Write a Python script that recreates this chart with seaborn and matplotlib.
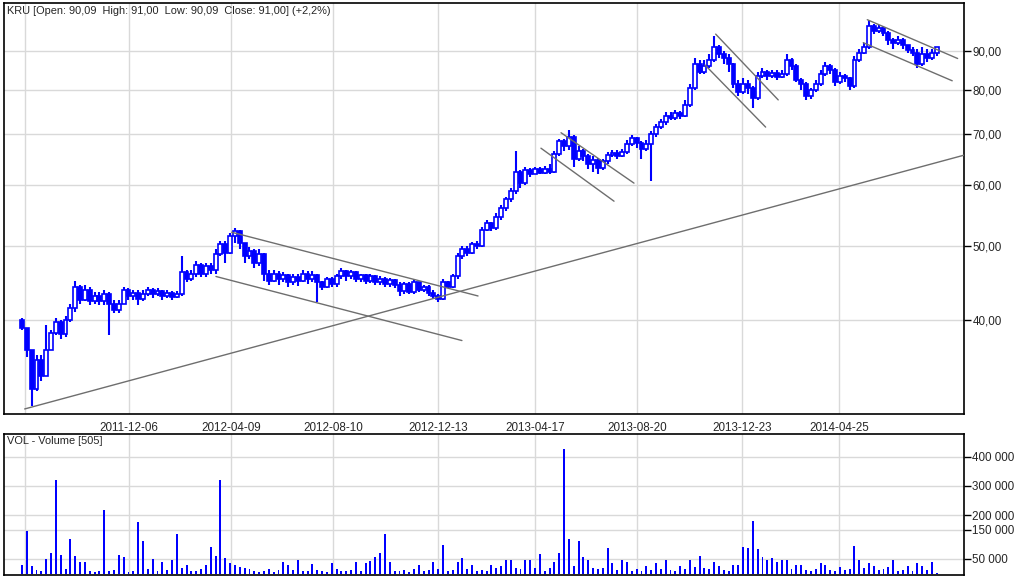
import numpy as np
import pandas as pd
import matplotlib
matplotlib.use("Agg")
import matplotlib.pyplot as plt
from matplotlib.ticker import FixedLocator, NullLocator
import seaborn as sns

# Data (one bar ~ 4 sessions)
first_open = 40.0
closes = [
    39.0, 36.5, 32.5, 35.5, 33.8, 36.5, 38.5, 39.8, 38.3, 40.0,
    41.5, 44.2, 42.5, 43.8, 42.3, 43.0, 42.3, 43.2, 42.0, 41.2,
    42.0, 43.8, 43.0, 43.4, 42.6, 43.3, 43.8, 43.2, 43.6, 43.0,
    43.4, 42.9, 43.3, 46.2, 45.2, 46.0, 47.2, 46.0, 47.0, 46.5,
    48.8, 50.3, 49.0, 51.5, 52.3, 50.5, 48.5, 49.2, 47.5, 48.8,
    46.0, 45.0, 46.0, 45.2, 45.8, 44.8, 45.5, 45.0, 46.0, 45.2,
    45.8, 44.8, 44.2, 45.2, 44.6, 45.6, 46.3, 45.6, 46.2, 45.2,
    45.8, 45.0, 45.6, 44.9, 45.3, 44.6, 45.1, 44.5, 43.6, 44.6,
    43.5, 44.8, 43.8, 44.2, 43.4, 43.0, 42.6, 44.8, 44.2, 45.6,
    48.5, 49.6, 49.0, 50.3, 50.0, 52.5, 53.5, 52.8, 54.5, 56.0,
    57.5, 59.0, 62.5, 60.5, 62.8, 62.0, 63.0, 62.3, 63.0, 62.5,
    66.0, 68.5, 67.5, 69.5, 65.0, 66.5, 65.5, 64.0, 64.8, 63.2,
    64.5, 65.8, 66.2, 65.6, 66.4, 68.0, 69.2, 68.2, 67.0, 68.0,
    70.0, 71.5, 72.5, 74.0, 73.5, 74.5, 74.0, 76.5, 80.5, 86.5,
    84.5, 86.0, 87.5, 91.0, 89.0, 88.0, 86.5, 81.5, 79.5, 81.5,
    80.5, 78.0, 83.5, 84.5, 83.5, 84.2, 83.2, 84.0, 87.5, 86.0,
    82.5, 81.5, 78.5, 80.0, 81.5, 84.0, 86.0, 85.0, 82.0, 83.5,
    82.8, 81.0, 87.5, 89.5, 91.0, 97.0, 95.5, 96.5, 95.0, 93.0,
    92.0, 93.0, 91.5, 90.2, 89.5, 86.5, 89.0, 88.0, 89.5, 91.0,
]
highs = [
    40.2, 39.0, 36.5, 36.0, 36.0, 39.4, 38.8, 40.2, 40.0, 40.5,
    42.0, 45.0, 44.5, 44.5, 44.2, 43.5, 43.5, 43.8, 43.5, 42.5,
    42.5, 44.2, 44.0, 43.8, 43.8, 43.8, 44.2, 44.0, 44.0, 43.8,
    43.8, 43.6, 43.6, 48.5, 46.5, 46.5, 47.8, 47.5, 47.5, 47.5,
    49.5, 50.8, 50.8, 52.0, 52.8, 52.5, 50.5, 49.8, 49.5, 49.5,
    49.0, 46.5, 46.5, 46.3, 46.2, 46.0, 46.0, 46.0, 46.5, 46.3,
    46.3, 46.0, 45.0, 45.5, 45.5, 46.0, 46.8, 46.5, 46.5, 46.4,
    46.0, 46.0, 45.9, 45.8, 45.6, 45.5, 45.4, 45.3, 44.8, 44.9,
    44.8, 45.2, 44.9, 44.5, 44.4, 43.8, 43.2, 45.3, 45.0, 46.0,
    49.0, 50.0, 50.0, 50.6, 50.8, 53.0, 54.0, 53.8, 55.2, 56.5,
    58.0, 59.5, 66.5, 62.8, 63.5, 63.3, 63.5, 63.5, 63.6, 64.0,
    66.5, 69.0, 69.0, 70.8, 69.8, 67.5, 67.0, 66.0, 65.5, 65.2,
    65.0, 66.3, 66.8, 66.8, 67.0, 68.8, 69.8, 69.5, 68.5, 68.8,
    70.6, 72.2, 73.2, 74.8, 74.8, 75.2, 75.0, 77.5, 81.5, 88.0,
    87.5, 87.5, 89.0, 94.0, 91.5, 90.0, 89.0, 86.8, 82.5, 83.0,
    82.5, 80.8, 84.5, 85.5, 85.0, 85.0, 84.8, 85.0, 89.0, 88.0,
    86.5, 83.0, 82.0, 80.5, 82.5, 84.8, 87.0, 86.5, 85.5, 84.3,
    83.8, 83.2, 88.5, 90.5, 92.0, 98.8, 97.5, 97.2, 96.8, 95.5,
    93.5, 94.0, 93.5, 91.5, 91.0, 90.5, 91.0, 90.5, 90.5, 91.0,
]
lows = [
    38.8, 35.8, 30.9, 32.3, 33.3, 34.0, 36.5, 38.2, 37.8, 38.0,
    39.8, 41.0, 42.0, 42.3, 41.8, 42.0, 41.8, 41.8, 38.2, 40.8,
    40.8, 42.0, 42.5, 42.5, 41.8, 42.3, 43.0, 42.8, 43.0, 42.5,
    42.8, 42.5, 42.8, 43.0, 44.8, 45.0, 45.5, 45.5, 45.5, 46.0,
    46.0, 48.5, 47.5, 48.8, 50.5, 49.5, 47.5, 48.0, 46.8, 47.0,
    45.0, 44.5, 44.8, 44.5, 44.8, 44.2, 44.5, 44.3, 44.8, 44.6,
    44.8, 42.2, 43.8, 44.0, 44.2, 44.2, 45.3, 45.0, 45.2, 44.8,
    44.9, 44.6, 44.7, 44.5, 44.5, 44.2, 44.2, 44.0, 43.0, 43.3,
    43.2, 43.3, 43.5, 43.5, 43.0, 42.6, 42.2, 42.5, 44.0, 44.0,
    45.3, 48.0, 48.5, 48.8, 49.5, 49.8, 52.3, 52.3, 52.5, 54.0,
    55.5, 57.0, 58.5, 59.5, 60.0, 61.5, 62.0, 62.0, 62.0, 62.0,
    62.3, 65.5, 66.5, 66.8, 63.5, 64.5, 64.5, 63.0, 62.5, 62.0,
    62.8, 64.0, 65.3, 65.0, 65.3, 66.0, 67.5, 67.2, 65.0, 66.5,
    60.7, 69.5, 71.0, 72.0, 73.0, 73.0, 73.3, 73.8, 76.0, 80.0,
    84.0, 84.0, 85.5, 87.0, 88.0, 86.5, 84.5, 80.5, 78.5, 79.0,
    79.0, 75.8, 77.5, 83.0, 82.5, 82.8, 82.5, 83.0, 83.5, 85.0,
    82.0, 80.0, 77.5, 77.8, 79.5, 81.0, 83.5, 84.0, 81.0, 81.5,
    82.0, 80.0, 80.5, 87.0, 89.0, 90.5, 94.5, 95.0, 94.0, 91.5,
    90.5, 91.5, 90.5, 89.5, 88.5, 85.5, 86.0, 87.0, 87.5, 88.5,
]

volumes = [
    30000, 146000, 25000, 12000, 8000, 50000, 70000, 319000, 62000, 15000,
    118000, 60000, 40000, 40000, 10000, 6000, 9000, 219000, 8000, 12000,
    63000, 58000, 7000, 10000, 178000, 111000, 15000, 50000, 9000, 39000,
    12000, 46000, 136000, 18000, 31000, 10000, 8000, 14000, 31000, 90000,
    60000, 322000, 54000, 35000, 30000, 22000, 18000, 15000, 10000, 6000,
    9000, 14000, 7000, 12000, 41000, 30000, 11000, 45000, 8000, 10000,
    33000, 12000, 9000, 7000, 35000, 15000, 10000, 8000, 12000, 40000,
    9000, 36000, 42000, 57000, 70000, 136000, 39000, 10000, 8000, 12000,
    7000, 15000, 30000, 9000, 11000, 39000, 14000, 97000, 10000, 12000,
    39000, 54000, 15000, 31000, 9000, 12000, 10000, 31000, 18000, 25000,
    45000, 48000, 20000, 15000, 45000, 47000, 20000, 68000, 10000, 18000,
    40000, 71000, 426000, 117000, 25000, 110000, 58000, 48000, 20000, 15000,
    18000, 88000, 37000, 12000, 45000, 38000, 10000, 15000, 8000, 25000,
    12000, 37000, 15000, 48000, 12000, 8000, 27000, 15000, 47000, 22000,
    60000, 18000, 15000, 38000, 27000, 12000, 10000, 30000, 30000, 90000,
    88000, 181000, 85000, 58000, 48000, 52000, 40000, 48000, 48000, 15000,
    28000, 30000, 12000, 10000, 15000, 37000, 30000, 12000, 10000, 22000,
    12000, 15000, 96000, 48000, 20000, 35000, 27000, 12000, 15000, 23000,
    48000, 10000, 12000, 25000, 10000, 37000, 25000, 12000, 40000, 505,
]

date_ticks = [2.2, 88.2, 173, 257.3, 344, 424.2, 508.5, 595.3, 675.5]
date_labels = ["", "2011-12-06", "2012-04-09", "2012-08-10", "2012-12-13",
               "2013-04-17", "2013-08-20", "2013-12-23", "2014-04-25"]
price_ticks = [40, 50, 60, 70, 80, 90]
price_labels = ["40,00", "50,00", "60,00", "70,00", "80,00", "90,00"]
vol_ticks = [50000, 150000, 200000, 300000, 400000]
vol_labels = ["50 000", "150 000", "200 000", "300 000", "400 000"]

# hand-drawn trend lines: (day0, price0, day1, price1)
trend_lines = [
    (2.2, 30.6, 778.5, 65.7),
    (173.3, 52.1, 376.9, 43.0), (160.3, 45.6, 363.6, 37.6),
    (445.5, 70.3, 505.8, 60.4), (428.9, 67.1, 489.3, 57.2),
    (573.3, 94.6, 625.0, 77.6), (564.5, 86.2, 614.6, 71.5),
    (698.6, 98.8, 773.3, 87.9), (695.3, 92.2, 768.8, 82.2),
]

df = pd.DataFrame({"close": closes, "high": highs, "low": lows, "volume": volumes})
df["day"] = np.arange(len(df)) * 4
df["open"] = df["close"].shift(1).fillna(first_open)
df["top"] = df[["open", "close"]].max(axis=1)
df["bot"] = df[["open", "close"]].min(axis=1)
df["body"] = (df["top"] - df["bot"]).clip(lower=0.15)
up = df["close"] >= df["open"]

sns.set_theme(style="white")
plt.rcParams["font.family"] = ["Liberation Sans", "DejaVu Sans"]
blue = "#0000ff"
grid_c = "#d9d9d9"

fig = plt.figure(figsize=(10.18, 5.83), dpi=100)
ax = fig.add_axes([0.0039, 0.2899, 0.9430, 0.7050])
axv = fig.add_axes([0.0039, 0.0137, 0.9430, 0.2419])

# price panel
ax.set_yscale("log")
ax.vlines(df["day"], df["low"], df["high"], color=blue, lw=1.5, zorder=3)
ax.bar(df["day"][up], df["body"][up], bottom=df["bot"][up],
       width=3.2, color="white", edgecolor=blue, linewidth=1.2, zorder=4)
ax.bar(df["day"][~up], df["body"][~up], bottom=df["bot"][~up],
       width=3.2, color=blue, edgecolor=blue, linewidth=1.2, zorder=4)
for d0, p0, d1, p1 in trend_lines:
    ax.plot([d0, d1], [p0, p1], color="#6e6e6e", lw=1.0, zorder=5)

ax.set_xlim(-14.9, 778.5)
ax.set_ylim(30.14, 103.9)
ax.yaxis.set_major_locator(FixedLocator(price_ticks))
ax.yaxis.set_minor_locator(NullLocator())
ax.set_yticklabels(price_labels)
ax.set_xticks(date_ticks)
ax.set_xticklabels(date_labels)
ax.text(0.003, 0.993, "KRU [Open: 90,09  High: 91,00  Low: 90,09  Close: 91,00] (+2,2%)",
        transform=ax.transAxes, ha="left", va="top", fontsize=7.9, zorder=6)

# volume panel
sns.barplot(data=df, x="day", y="volume", native_scale=True, width=0.4, color=blue,
            saturation=1, linewidth=0, errorbar=None, ax=axv, zorder=3)
axv.set_xlim(-14.9, 778.5)
axv.set_ylim(-5000, 478000)
axv.set_yticks(vol_ticks)
axv.set_yticklabels(vol_labels)
axv.set_xticks(date_ticks)
axv.set_xticklabels([])
axv.set_xlabel("")
axv.set_ylabel("")
axv.text(0.003, 0.985, "VOL - Volume [505]", transform=axv.transAxes,
         ha="left", va="top", fontsize=7.9, zorder=6)

for a in (ax, axv):
    a.grid(True, color=grid_c, lw=1.0, zorder=0)
    a.set_axisbelow(True)
    a.yaxis.tick_right()
    a.tick_params(axis="y", which="major", direction="out", length=5, width=1,
                  color="black", labelsize=8.4, pad=1, left=False, right=True)
    a.tick_params(axis="x", direction="out", length=4, width=1, color="black",
                  labelsize=8.4, pad=2, top=False)
    for s in a.spines.values():
        s.set_color("black")
        s.set_linewidth(1.2)
axv.tick_params(axis="x", length=0)

fig.savefig("out.png", dpi=100, facecolor="white")
